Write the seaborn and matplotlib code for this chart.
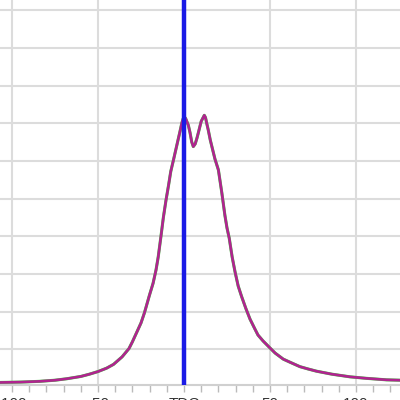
import numpy as np
import pandas as pd
import seaborn as sns
import matplotlib.pyplot as plt

# crank angle relative to TDC (deg) and curve value (arbitrary units)
angle = [-107, -95, -84, -75, -68, -60, -55, -50, -45, -41, -36, -32, -30,
         -27.5, -25, -23, -20, -18, -16.3, -15, -13.4, -12, -10.5, -9, -7.7,
         -6, -5, -4, -3, -2, -1.3, -0.5, 0.2, 1, 2.5, 3.5, 4.5, 5.4, 6.5,
         7.5, 8.3, 10, 11.8, 12.5, 13.2, 14.1, 15.3, 16.7, 18, 20, 22, 23.8,
         25, 26.3, 28, 29.7, 31.5, 33.5, 36, 38.4, 41, 43, 46, 49.7, 53,
         57.7, 62, 67.4, 72, 77, 86, 96.5, 106, 117.8, 125.6]
value = [0.12, 0.13, 0.15, 0.18, 0.22, 0.28, 0.34, 0.41, 0.50, 0.60, 0.80, 1.02,
         1.20, 1.45, 1.70, 1.97, 2.45, 2.75, 3.10, 3.45, 4.0, 4.5, 4.95, 5.35,
         5.72, 6.05, 6.25, 6.45, 6.65, 6.85, 7.0, 7.12, 7.17, 7.12, 6.95, 6.75,
         6.50, 6.38, 6.45, 6.60, 6.74, 7.05, 7.21, 7.15, 7.0, 6.82, 6.55, 6.29,
         6.05, 5.76, 5.15, 4.55, 4.22, 3.95, 3.45, 3.05, 2.68, 2.40, 2.08, 1.80,
         1.56, 1.38, 1.22, 1.05, 0.90, 0.74, 0.65, 0.54, 0.48, 0.42, 0.34, 0.27,
         0.23, 0.19, 0.18]

tick_pos = [-100, -50, 0, 50, 100]
tick_lbl = ["-100", "-50", "TDC", "50", "100"]
tdc_x = 0

df = pd.DataFrame({"angle": angle, "value": value})

sns.set_theme(style="whitegrid")
plt.rcParams["font.family"] = ["Liberation Sans", "DejaVu Sans"]

fig = plt.figure(figsize=(4, 4), dpi=100)
ax = fig.add_axes([0, 15 / 400, 1, 385 / 400])
ax.set_facecolor("white")

sns.lineplot(data=df, x="angle", y="value", color="#44cc44", lw=2.2, ax=ax)
sns.lineplot(data=df, x="angle", y="value", color="#b0248f", lw=1.9, ax=ax)
ax.axvline(tdc_x, color="#1a1ae6", lw=3.2, zorder=5)

ax.set_xlim(-107, 125.6)
ax.set_ylim(0.053, 10.27)
ax.set_xticks(tick_pos)
ax.set_xticklabels(tick_lbl)
ax.set_xticks(np.arange(-100, 130, 10), minor=True)
ax.set_yticks(range(1, 11))
ax.set_yticklabels([])
ax.grid(True, which="major", color="#dcdcdc", lw=1.5)
ax.grid(False, which="minor")
ax.tick_params(axis="x", which="both", direction="out", length=5, width=1,
               color="#bbbbbb", pad=4, labelsize=11, labelcolor="#333333",
               bottom=True)
ax.tick_params(axis="y", length=0)
ax.set_xlabel("")
ax.set_ylabel("")
for s in ["top", "left", "right"]:
    ax.spines[s].set_visible(False)
ax.spines["bottom"].set_color("#d0d0d0")
ax.spines["bottom"].set_linewidth(1.5)

fig.savefig("out.png", dpi=100)
